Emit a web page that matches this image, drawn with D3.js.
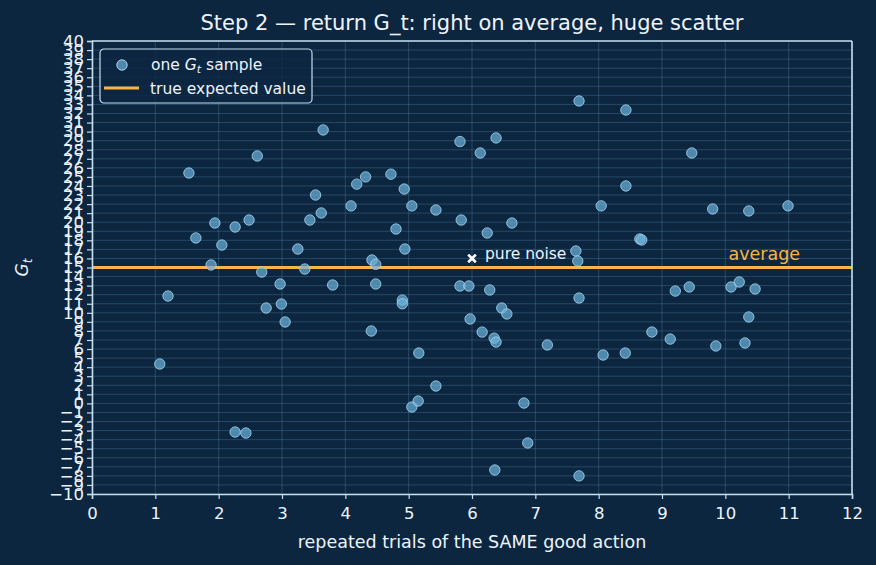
<html lang="en">
<head>
<style>
body { margin:0; background:#0c2640; }
text { font-family: "DejaVu Sans", sans-serif; }
</style>
</head>
<body>
</body>
<script type='text/javascript' src='https://d3js.org/d3.v7.min.js'></script>
<script>
var width = 876, height = 565;
var margin = {left: 92, right: 24, top: 41, bottom: 71};

// samples
const trialX = [1.07,1.20,1.53,1.64,1.88,1.94,2.05,2.26,2.26,2.43,2.48,2.61,2.68,2.75,2.97,2.99,3.05,3.25,3.36,3.44,3.53,3.62,3.65,3.80,4.09,4.18,4.32,4.41,4.42,4.48,4.48,4.72,4.80,4.90,4.90,4.93,4.94,5.05,5.05,5.15,5.16,5.43,5.43,5.81,5.81,5.83,5.95,5.97,6.13,6.16,6.24,6.28,6.38,6.35,6.38,6.36,6.47,6.55,6.63,6.82,6.88,7.19,7.64,7.67,7.69,7.69,7.69,8.04,8.07,8.42,8.43,8.43,8.65,8.68,8.84,9.13,9.21,9.43,9.47,9.80,9.85,10.09,10.22,10.31,10.37,10.37,10.47,10.99];
const returnG = [4.35,11.85,25.43,18.26,15.28,19.91,17.48,19.47,-3.16,-3.27,20.24,27.31,14.50,10.53,13.18,10.97,8.99,17.04,14.83,20.24,23.0,21.02,30.18,13.07,21.8,24.2,25.0,7.99,15.83,15.35,13.18,25.3,19.25,11.4,11.0,23.66,17.04,-0.4,21.8,0.26,5.56,21.35,1.92,28.9,12.96,20.24,12.96,9.32,27.64,7.87,18.81,12.52,29.3,7.2,6.77,-7.35,10.53,9.87,19.91,0.04,-4.37,6.45,16.82,15.72,33.38,11.63,-8.0,21.8,5.34,5.56,32.38,24.0,18.15,18.04,7.88,7.1,12.4,12.85,27.64,21.46,6.34,12.85,13.40,6.67,21.24,9.54,12.63,21.8];
const trueValue = 15;
const noiseMark = [6, 16];
const xTicks = d3.range(0, 13, 1);
const yTicks = d3.range(-10, 41, 1);

var svg = d3.select('body').append('svg').attr('width', width).attr('height', height);
svg.append('rect').attr('width', width).attr('height', height).attr('fill', '#0c2640');

var x = d3.scaleLinear().domain([0, 12]).range([margin.left, width - margin.right]);
var y = d3.scaleLinear().domain([-10, 40]).range([height - margin.bottom, margin.top]);

var axisCol = '#c4def0', textCol = '#eef4fa', orange = '#f8b445';

// grid
svg.append('g').selectAll('line').data(yTicks).join('line')
  .attr('x1', x(0)).attr('x2', x(12))
  .attr('y1', d => y(d)).attr('y2', d => y(d))
  .attr('stroke', '#6f9fc4').attr('stroke-opacity', 0.35).attr('stroke-width', 0.8);
svg.append('g').selectAll('line').data(xTicks).join('line')
  .attr('y1', y(-10)).attr('y2', y(40))
  .attr('x1', d => x(d)).attr('x2', d => x(d))
  .attr('stroke', '#6f9fc4').attr('stroke-opacity', 0.35).attr('stroke-width', 0.8);

// true expected value
svg.append('line').attr('x1', x(0)).attr('x2', x(12))
  .attr('y1', y(trueValue)).attr('y2', y(trueValue))
  .attr('stroke', orange).attr('stroke-width', 3);

// samples
svg.append('g').selectAll('circle').data(trialX).join('circle')
  .attr('cx', d => x(d)).attr('cy', (d, i) => y(returnG[i]))
  .attr('r', 5.2)
  .attr('fill', '#6bb3dc').attr('fill-opacity', 0.7)
  .attr('stroke', '#a9d4ee').attr('stroke-opacity', 0.8).attr('stroke-width', 1);

// axes
var fmt = d => d < 0 ? '\u2212' + Math.abs(d) : '' + d;
var gx = svg.append('g').attr('transform', 'translate(0,' + y(-10) + ')')
  .call(d3.axisBottom(x).tickValues(xTicks).tickFormat(fmt).tickSizeOuter(0).tickSize(5).tickPadding(8));
var gy = svg.append('g').attr('transform', 'translate(' + x(0) + ',0)')
  .call(d3.axisLeft(y).tickValues(yTicks).tickFormat(fmt).tickSizeOuter(0).tickSize(5).tickPadding(3));
[gx, gy].forEach(g => {
  g.select('.domain').attr('stroke', axisCol).attr('stroke-width', 1.6);
  g.selectAll('.tick line').attr('stroke', axisCol).attr('stroke-width', 1.2);
  g.selectAll('.tick text').attr('fill', textCol).style('font-size', '16.5px');
});
// top and right spines
svg.append('line').attr('x1', x(0)).attr('x2', x(12)).attr('y1', y(40)).attr('y2', y(40))
  .attr('stroke', axisCol).attr('stroke-width', 1.6);
svg.append('line').attr('x1', x(12)).attr('x2', x(12)).attr('y1', y(40)).attr('y2', y(-10))
  .attr('stroke', axisCol).attr('stroke-width', 1.6);

// annotations
svg.append('path')
  .attr('d', d3.symbol().type(d3.symbolX).size(40)())
  .attr('transform', 'translate(' + x(noiseMark[0]) + ',' + y(noiseMark[1]) + ')')
  .attr('fill', '#fff').attr('stroke', '#fff').attr('stroke-width', 2.6);
svg.append('text').attr('x', x(noiseMark[0]) + 13).attr('y', y(noiseMark[1]) - 4)
  .attr('dominant-baseline', 'middle').attr('fill', textCol).style('font-size', '15.5px').text('pure noise');
svg.append('text').attr('x', x(10.05)).attr('y', y(trueValue) - 13)
  .attr('dominant-baseline', 'middle').attr('fill', orange).style('font-size', '17.5px').text('average');

// title & labels
svg.append('text').attr('x', (x(0) + x(12)) / 2).attr('y', 30).attr('text-anchor', 'middle')
  .attr('fill', textCol).style('font-size', '21px').text('Step 2 \u2014 return G_t: right on average, huge scatter');
svg.append('text').attr('x', (x(0) + x(12)) / 2).attr('y', 548).attr('text-anchor', 'middle')
  .attr('fill', textCol).style('font-size', '17.5px').text('repeated trials of the SAME good action');
var yl = svg.append('text').attr('transform', 'translate(28,' + y(15) + ') rotate(-90)')
  .attr('text-anchor', 'middle').attr('fill', textCol).style('font-size', '17px');
yl.append('tspan').style('font-style', 'italic').text('G');
yl.append('tspan').style('font-style', 'italic').style('font-size', '12px').attr('dy', 4).text('t');

// legend
var lg = svg.append('g').attr('transform', 'translate(100,49)');
lg.append('rect').attr('width', 212).attr('height', 54).attr('rx', 4)
  .attr('fill', '#0c2640').attr('fill-opacity', 0.8).attr('stroke', axisCol).attr('stroke-width', 1.2);
lg.append('circle').attr('cx', 22).attr('cy', 16).attr('r', 5.2)
  .attr('fill', '#6bb3dc').attr('fill-opacity', 0.7).attr('stroke', '#a9d4ee').attr('stroke-width', 1);
var t1 = lg.append('text').attr('x', 51).attr('y', 21).attr('fill', textCol).style('font-size', '15.5px');
t1.append('tspan').text('one ');
t1.append('tspan').style('font-style', 'italic').text('G');
t1.append('tspan').style('font-style', 'italic').style('font-size', '11px').attr('dy', 3).text('t');
t1.append('tspan').attr('dy', -3).text(' sample');
lg.append('line').attr('x1', 4).attr('x2', 39).attr('y1', 39).attr('y2', 39)
  .attr('stroke', orange).attr('stroke-width', 3);
lg.append('text').attr('x', 50).attr('y', 44.5).attr('fill', textCol).style('font-size', '15.5px').text('true expected value');
</script>
</html>
